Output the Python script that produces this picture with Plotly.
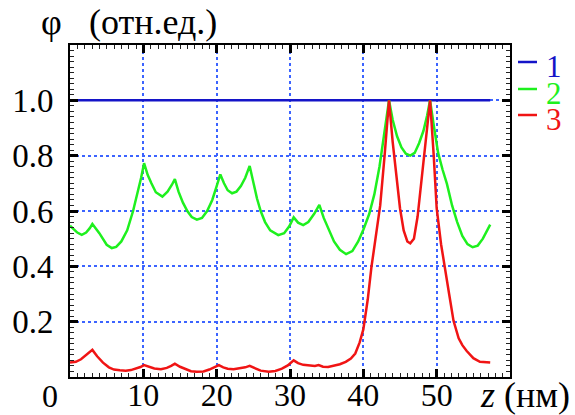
import plotly.graph_objects as go

# ---- data ----
z_blue = [0.0, 57.3]
phi_blue = [1.0, 1.0]

z_green = [0.0, 0.5, 1.0, 1.6, 2.2, 2.7, 3.05,
           4.0, 4.5, 5.0, 5.7, 6.3, 7.0, 7.8, 8.6, 9.2, 9.7, 10.1,
           10.6, 11.1, 11.7, 12.6, 13.3, 13.9, 14.3,
           14.8, 15.4, 16.0, 16.6, 17.3, 18.0, 18.7, 19.4, 20.0, 20.5,
           21.0, 21.5, 22.1, 22.7, 23.3, 23.9, 24.5,
           25.0, 25.5, 26.0, 26.6, 27.3, 28.4, 29.2, 29.9, 30.5,
           31.1, 31.8, 32.5, 33.3, 34.0,
           34.6, 35.3, 36.0, 36.8, 37.65, 38.5, 39.3, 40.0, 40.8, 41.5, 42.2, 42.8, 43.5,
           44.0, 44.6, 45.2, 45.8, 46.4, 47.0, 47.6, 48.2, 48.7, 49.1,
           49.6, 50.2, 50.8, 51.4, 52.1, 52.8, 53.5, 54.2, 54.9, 55.6, 56.3, 57.3]
phi_green = [0.547, 0.535, 0.522, 0.514, 0.522, 0.538, 0.553,
             0.52, 0.50, 0.478, 0.466, 0.47, 0.49, 0.53, 0.60, 0.66, 0.72, 0.773,
             0.73, 0.70, 0.668, 0.652, 0.67, 0.695, 0.715,
             0.67, 0.63, 0.60, 0.578, 0.569, 0.575, 0.60, 0.64, 0.69, 0.732,
             0.70, 0.675, 0.664, 0.67, 0.69, 0.72, 0.763,
             0.70, 0.645, 0.60, 0.56, 0.53, 0.513, 0.52, 0.545, 0.577,
             0.558, 0.549, 0.56, 0.59, 0.622,
             0.575, 0.53, 0.49, 0.46, 0.444, 0.455, 0.49, 0.532, 0.589, 0.66, 0.76, 0.87, 1.0,
             0.93, 0.87, 0.83, 0.807, 0.80, 0.81, 0.845, 0.89, 0.945, 1.0,
             0.91, 0.81, 0.75, 0.698, 0.62, 0.56, 0.51, 0.48, 0.469, 0.475, 0.50, 0.551]

z_red = [0.0, 0.8, 1.5, 2.2, 3.05,
         3.7, 4.5, 5.3, 6.0, 6.8, 7.6, 8.3, 9.0, 9.6, 10.1,
         10.8, 11.5, 12.4, 13.2, 13.8, 14.3,
         15.0, 15.8, 16.5, 17.3, 18.2, 19.0, 19.7, 20.3,
         20.9, 21.5, 22.3, 23.2, 23.9, 24.5,
         25.2, 26.0, 27.1, 28.0, 28.9, 29.7, 30.5,
         31.1, 31.8, 32.7, 33.4, 33.9, 34.5, 35.2, 36.0, 36.8, 37.6, 38.3, 38.9,
         39.5, 40.0, 40.6, 41.1, 41.7, 42.3, 42.9, 43.5,
         44.0, 44.5, 45.0, 45.5, 46.0, 46.4, 46.9, 47.4, 48.0, 48.6, 49.1,
         49.6, 50.0, 50.6, 51.2, 51.7, 52.3, 53.0, 53.5, 54.1, 55.0, 55.9, 57.3]
phi_red = [0.052, 0.055, 0.064, 0.078, 0.098,
           0.075, 0.052, 0.035, 0.027, 0.024, 0.023, 0.025, 0.030, 0.036, 0.043,
           0.036, 0.031, 0.028, 0.033, 0.040, 0.048,
           0.037, 0.027, 0.021, 0.019, 0.020, 0.027, 0.036, 0.043,
           0.035, 0.030, 0.028, 0.031, 0.035, 0.040,
           0.031, 0.023, 0.019, 0.022, 0.030, 0.042, 0.060,
           0.050, 0.044, 0.042, 0.040, 0.043, 0.037, 0.036, 0.040, 0.046, 0.055, 0.067, 0.085,
           0.125, 0.172, 0.28, 0.396, 0.50, 0.62, 0.80, 1.0,
           0.85, 0.73, 0.61, 0.53, 0.49, 0.483, 0.50, 0.58, 0.73, 0.87, 1.0,
           0.80, 0.61, 0.48, 0.39, 0.30, 0.203, 0.14, 0.115, 0.094, 0.068, 0.055, 0.052]

x_tickvals = [10, 20, 30, 40, 50]
x_ticktext = ["10", "20", "30", "40", "50"]
y_tickvals = [0.2, 0.4, 0.6, 0.8, 1.0]
y_ticktext = ["0.2", "0.4", "0.6", "0.8", "1.0"]
legend_labels = ["1", "2", "3"]

BLUE = "#1414c8"
GREEN = "#1ef01e"
RED = "#f01414"
GRID = "#3c64ff"
FONT = "'Liberation Serif', 'Times New Roman', Times, 'DejaVu Serif', serif"

fig = go.Figure()
fig.add_trace(go.Scatter(x=z_blue, y=phi_blue, mode="lines",
                         line=dict(color=BLUE, width=2.5), showlegend=False))
fig.add_trace(go.Scatter(x=z_green, y=phi_green, mode="lines",
                         line=dict(color=GREEN, width=2.5), showlegend=False))
fig.add_trace(go.Scatter(x=z_red, y=phi_red, mode="lines",
                         line=dict(color=RED, width=2.5), showlegend=False))

axis_common = dict(showline=True, linecolor="black", linewidth=2, mirror="allticks",
                   ticks="inside", ticklen=8, tickwidth=2.5, tickcolor="black",
                   showgrid=True, gridcolor=GRID, griddash="dot", gridwidth=1.5,
                   zeroline=False, automargin=False,
                   tickfont=dict(family=FONT, size=33, color="black"))

fig.update_xaxes(range=[0, 60], tickvals=x_tickvals, ticktext=x_ticktext,
                 minor=dict(dtick=1, tick0=0, ticks="inside", ticklen=4, tickwidth=1.2,
                            tickcolor="#222", showgrid=False),
                 ticklabelstandoff=-11,
                 tickfont=dict(family=FONT, size=32, color="black"),
                 **{k: v for k, v in axis_common.items() if k != "tickfont"})
fig.update_yaxes(range=[0, 1.2], tickvals=y_tickvals, ticktext=y_ticktext,
                 minor=dict(dtick=0.02, tick0=0, ticks="inside", ticklen=4, tickwidth=1.2,
                            tickcolor="#222", showgrid=False),
                 ticklabelstandoff=8,
                 **axis_common)

W, H = 575, 415
ML, MR, MT, MB = 70, 65, 45, 38
pw, ph = W - ML - MR, H - MT - MB


def px(xp):
    return (xp - ML) / pw


def py(yp):
    return (H - MB - yp) / ph


annotations = [
    dict(text="φ", x=px(51), y=py(22), xanchor="center", yanchor="middle"),
    dict(text="(отн.ед.)", x=px(87), y=py(22), xanchor="left", yanchor="middle"),
    dict(text="0", x=px(50), y=py(396), xanchor="center", yanchor="middle",
         font=dict(family=FONT, size=32, color="black")),
    dict(text="<i>z</i> (нм)", x=px(478), y=py(395), xanchor="left", yanchor="middle"),
]
colors = [BLUE, GREEN, RED]
rows = [62, 89, 115]
shapes = []
for lab, col, ry in zip(legend_labels, colors, rows):
    shapes.append(dict(type="line", xref="paper", yref="paper",
                       x0=px(518), x1=px(537), y0=py(ry), y1=py(ry),
                       line=dict(color=col, width=2.5)))
    annotations.append(dict(text=lab, x=px(544), y=py(ry + 4), xanchor="left",
                            yanchor="middle", font=dict(family=FONT, size=31, color=col)))

for a in annotations:
    a.setdefault("xref", "paper")
    a.setdefault("yref", "paper")
    a.setdefault("showarrow", False)
    a.setdefault("font", dict(family=FONT, size=36, color="black"))

fig.update_layout(width=W, height=H, margin=dict(l=ML, r=MR, t=MT, b=MB, autoexpand=False),
                  plot_bgcolor="white", paper_bgcolor="white",
                  font=dict(family=FONT),
                  annotations=annotations, shapes=shapes, showlegend=False)

fig.write_html("out.html", config={"displayModeBar": False},
               post_script="document.body.style.margin='0px';document.body.style.overflow='hidden';")
